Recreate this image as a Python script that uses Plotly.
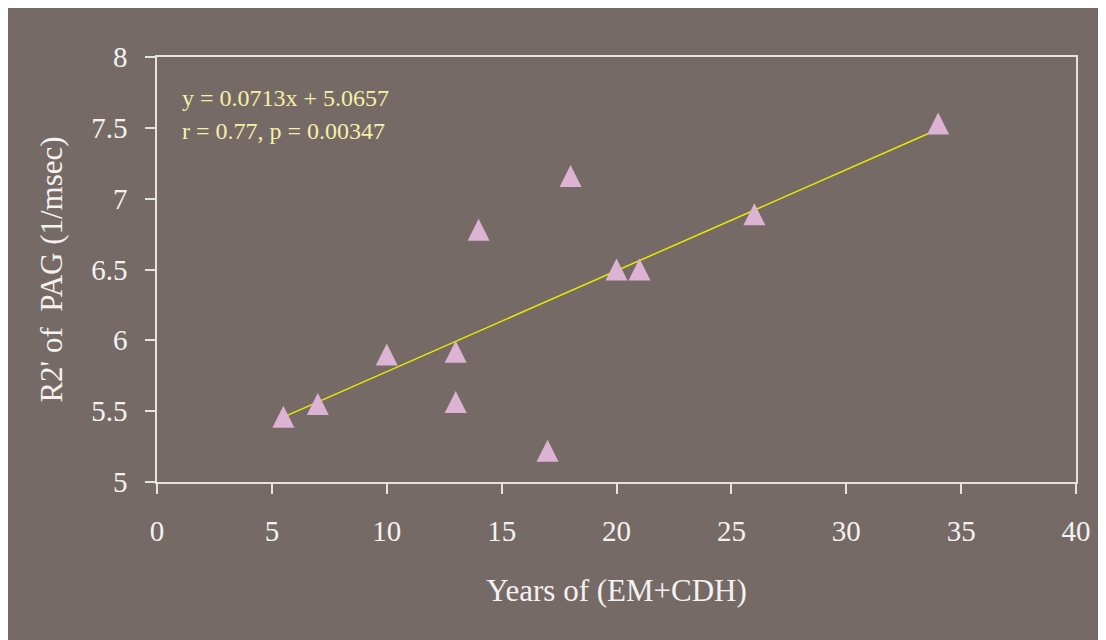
import plotly.graph_objects as go

# Data
years = [5.5, 7, 10, 13, 13, 14, 17, 18, 20, 21, 26, 34]
r2_pag = [5.46, 5.55, 5.90, 5.92, 5.565, 6.78, 5.22, 7.16, 6.50, 6.50, 6.89, 7.53]

slope = 0.0713
intercept = 5.0657
fit_x = [5.5, 34]
fit_y = [slope * v + intercept for v in fit_x]

x_ticks = [0, 5, 10, 15, 20, 25, 30, 35, 40]
y_ticks = [5, 5.5, 6, 6.5, 7, 7.5, 8]
y_ticktext = ["5", "5.5", "6", "6.5", "7", "7.5", "8"]
y_range = [5, 8]

BG = "#756a66"
AXIS = "#e6e2de"
TXT = "#f4f2f0"
FONT = "Liberation Serif"

# plot geometry (px)
PLOT_H = 640 - 48.5 - 166
MARKER = 22
# arrow-up markers hang below their anchor; an overlay axis shifted by half a marker centres them
shift = (MARKER / 2) * (y_range[1] - y_range[0]) / PLOT_H

fig = go.Figure()
fig.add_trace(go.Scatter(
    x=years, y=r2_pag, mode="markers", yaxis="y2",
    marker=dict(symbol="arrow-up", size=MARKER, color="#dcb3d3",
                line=dict(color="#dcb3d3", width=0)),
    showlegend=False, cliponaxis=False,
))
fig.add_trace(go.Scatter(
    x=fit_x, y=fit_y, mode="lines",
    line=dict(color="#e8e800", width=1.5),
    showlegend=False,
))

fig.add_annotation(x=1.02, y=7.71, xref="x", yref="y", xanchor="left", yanchor="middle",
                   text="y = 0.0713x + 5.0657", showarrow=False,
                   font=dict(family=FONT, size=24, color="#f6f0a6"))
fig.add_annotation(x=1.02, y=7.475, xref="x", yref="y", xanchor="left", yanchor="middle",
                   text="r = 0.77, p = 0.00347", showarrow=False,
                   font=dict(family=FONT, size=24, color="#f6f0a6"))

fig.update_layout(
    width=1106, height=640,
    paper_bgcolor=BG, plot_bgcolor=BG,
    margin=dict(l=149, r=38, t=48.5, b=166),
    font=dict(family=FONT, color=TXT),
    xaxis=dict(
        range=[0, 40], tickvals=x_ticks, ticktext=[str(v) for v in x_ticks],
        showgrid=False, zeroline=False, showline=True, linecolor=AXIS, linewidth=1.5,
        mirror=True, ticks="outside", ticklen=10, tickcolor=AXIS, tickwidth=1.5,
        tickfont=dict(family=FONT, size=29, color=TXT), ticklabelstandoff=12,
        title=dict(text="Years of (EM+CDH)", font=dict(family=FONT, size=31, color=TXT), standoff=34),
    ),
    yaxis=dict(
        range=y_range, tickvals=y_ticks, ticktext=y_ticktext,
        showgrid=False, zeroline=False, showline=True, linecolor=AXIS, linewidth=1.5,
        mirror=True, ticks="outside", ticklen=10, tickcolor=AXIS, tickwidth=1.5,
        tickfont=dict(family=FONT, size=29, color=TXT), ticklabelstandoff=12,
        title=dict(text="R2' of  PAG (1/msec)", font=dict(family=FONT, size=31, color=TXT), standoff=19),
    ),
    yaxis2=dict(overlaying="y", range=[y_range[0] - shift, y_range[1] - shift],
                visible=False, showgrid=False, zeroline=False),
)

fig.write_html("out.html")
